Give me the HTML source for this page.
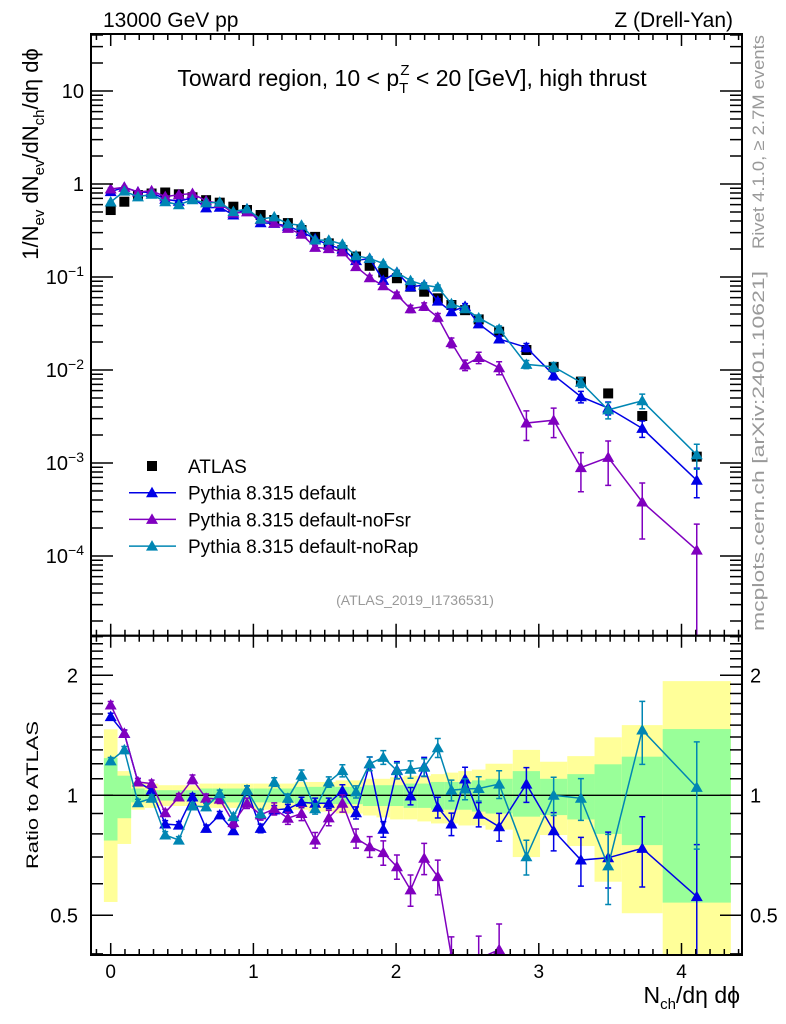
<!DOCTYPE html>
<html><head><meta charset="utf-8">
<style>
html,body{margin:0;padding:0;background:#fff;overflow:hidden;width:786px;height:1024px;}
svg{display:block;font-family:"Liberation Sans",sans-serif;}
</style></head>
<body>
<svg id="chart" width="786" height="1024" viewBox="0 0 786 1024" xmlns="http://www.w3.org/2000/svg">
<defs>
<clipPath id="clipMain"><rect x="91" y="34" width="651" height="601.7"/></clipPath>
<clipPath id="clipRatio"><rect x="91" y="635.7" width="651" height="319.3"/></clipPath>
</defs>
<g id="bands" clip-path="url(#clipRatio)"></g>
<g id="ratioMarks" clip-path="url(#clipRatio)"></g>
<g id="mainMarks" clip-path="url(#clipMain)"></g>
<g id="axes"></g>
<text x="103" y="27" font-size="21">13000 GeV pp</text>
<text x="733" y="27" font-size="21" text-anchor="end">Z (Drell-Yan)</text>
<text x="412" y="86" font-size="23" text-anchor="middle">Toward region, 10 &lt; p<tspan font-size="15" dy="7">T</tspan><tspan font-size="15" dx="-8" dy="-18">Z</tspan><tspan dy="11"> &lt; 20 [GeV], high thrust</tspan></text>
<text x="415" y="605" font-size="14" fill="#999" text-anchor="middle">(ATLAS_2019_I1736531)</text>
<text transform="translate(764,142) rotate(-90)" font-size="17" fill="#999" text-anchor="middle" textLength="214" lengthAdjust="spacingAndGlyphs">Rivet 4.1.0, ≥ 2.7M events</text>
<text transform="translate(764,451) rotate(-90)" font-size="17" fill="#999" text-anchor="middle" textLength="360" lengthAdjust="spacingAndGlyphs">mcplots.cern.ch [arXiv:2401.10621]</text>
<text transform="translate(38,154) rotate(-90)" font-size="22" text-anchor="middle">1/N<tspan font-size="15" dy="6">ev</tspan><tspan dy="-6"> dN</tspan><tspan font-size="15" dy="6">ev</tspan><tspan dy="-6">/dN</tspan><tspan font-size="15" dy="6">ch</tspan><tspan dy="-6">/dη dϕ</tspan></text>
<text transform="translate(38,795) rotate(-90)" font-size="17" text-anchor="middle" textLength="148" lengthAdjust="spacingAndGlyphs">Ratio to ATLAS</text>
<text x="740" y="1003" font-size="23" text-anchor="end">N<tspan font-size="15" dy="6">ch</tspan><tspan dy="-6">/dη dϕ</tspan></text>
<g id="legend"></g>
</svg>
<script>
const binLo = [-0.5,0.5,1.5,2.5,3.5,4.5,5.5,6.5,7.5,8.5,9.5,10.5,11.5,12.5,13.5,14.5,15.5,16.5,17.5,18.5,19.5,20.5,21.5,22.5,23.5,24.5,25.5,26.5,27.5,29.5,31.5,33.5,35.5,37.5,40.5];
const binHi = [0.5,1.5,2.5,3.5,4.5,5.5,6.5,7.5,8.5,9.5,10.5,11.5,12.5,13.5,14.5,15.5,16.5,17.5,18.5,19.5,20.5,21.5,22.5,23.5,24.5,25.5,26.5,27.5,29.5,31.5,33.5,35.5,37.5,40.5,45.5];
const atlas = [0.525,0.645,0.76,0.79,0.81,0.775,0.72,0.67,0.63,0.57,0.525,0.464,0.41,0.38,0.32,0.27,0.23,0.195,0.166,0.132,0.112,0.097,0.0786,0.0695,0.059,0.050,0.044,0.035,0.0258,0.0164,0.0108,0.0075,0.0056,0.0032,0.00117];
const blueR = [1.575,1.43,1.08,1.03,0.847,0.842,0.99,0.826,0.893,0.815,1.03,0.826,0.919,0.925,0.96,0.955,0.955,1.027,0.904,1.2,0.822,1.157,0.996,1.18,0.933,0.847,1.099,0.896,0.834,1.067,0.815,0.688,0.697,0.736,0.557];
const purpleR = [1.685,1.43,1.08,1.07,0.904,0.99,1.097,0.983,0.978,0.854,0.955,0.893,0.925,0.876,0.90,0.772,0.878,0.955,0.78,0.743,0.718,0.662,0.579,0.695,0.625,0.394,0.257,0.389,0.41,0.164,0.267,0.119,0.205,0.119,0.099];
const tealR = [1.22,1.30,0.958,0.983,0.795,0.772,0.94,0.935,1.01,0.884,1.03,0.90,1.08,0.983,1.124,0.925,1.08,1.153,1.02,1.2,1.245,1.153,1.162,1.176,1.316,1.03,1.037,1.04,1.067,0.701,1.0,0.983,0.665,1.458,1.047];
const blueE = [0.02,0.02,0.02,0.02,0.02,0.02,0.02,0.02,0.02,0.02,0.025,0.025,0.025,0.025,0.03,0.03,0.03,0.035,0.035,0.04,0.045,0.05,0.05,0.055,0.06,0.065,0.07,0.07,0.08,0.1,0.11,0.14,0.16,0.2,0.35];
const purpleE = [0.02,0.02,0.02,0.02,0.02,0.02,0.025,0.025,0.025,0.03,0.03,0.03,0.035,0.035,0.04,0.045,0.045,0.05,0.055,0.06,0.07,0.07,0.09,0.09,0.1,0.12,0.13,0.14,0.16,0.35,0.35,0.45,0.5,0.6,0.9];
const tealE = [0.02,0.02,0.02,0.02,0.02,0.02,0.02,0.02,0.02,0.02,0.025,0.025,0.025,0.025,0.03,0.03,0.03,0.035,0.035,0.04,0.04,0.045,0.05,0.05,0.055,0.06,0.06,0.07,0.08,0.1,0.11,0.12,0.2,0.18,0.3];
const yelUp = [1.464,1.15,1.08,1.07,1.06,1.06,1.06,1.07,1.07,1.07,1.07,1.07,1.07,1.07,1.08,1.08,1.08,1.09,1.09,1.10,1.10,1.11,1.12,1.12,1.13,1.14,1.15,1.16,1.20,1.30,1.214,1.254,1.398,1.50,1.934];
const yelDn = [0.54,0.755,0.92,0.93,0.94,0.94,0.94,0.93,0.93,0.93,0.93,0.92,0.92,0.92,0.92,0.91,0.91,0.90,0.90,0.89,0.88,0.87,0.87,0.86,0.85,0.85,0.84,0.84,0.82,0.70,0.795,0.746,0.607,0.506,0.35];
const grnUp = [1.24,1.12,1.04,1.03,1.03,1.03,1.03,1.04,1.04,1.04,1.04,1.04,1.04,1.04,1.05,1.05,1.05,1.05,1.05,1.06,1.06,1.06,1.07,1.07,1.08,1.08,1.08,1.09,1.10,1.15,1.10,1.13,1.196,1.25,1.466];
const grnDn = [0.77,0.876,0.96,0.97,0.97,0.97,0.97,0.96,0.96,0.96,0.96,0.96,0.96,0.96,0.95,0.95,0.95,0.95,0.95,0.94,0.94,0.94,0.93,0.93,0.92,0.92,0.92,0.91,0.90,0.884,0.892,0.87,0.80,0.75,0.538];
const xTicks = [0,1,2,3,4];
const mainDecades = [-4,-3,-2,-1,0,1];
const ratioLabels = [0.5,1,2];

const AREA = 10.47;
const NS = 'http://www.w3.org/2000/svg';
const L = 91, R = 742, MT = 34, MB = 635.7, RB = 955;
const xpx = x => 110.7 + x * 142.7;
const ym = v => 184 - 93 * Math.log10(v);
const yr = r => 795.3 - 398.6 * Math.log10(r);
const cl = (y, a, b) => Math.min(Math.max(y, a), b);
function mk(tag, attrs, parent) {
  const e = document.createElementNS(NS, tag);
  for (const k in attrs) e.setAttribute(k, attrs[k]);
  parent.appendChild(e);
  return e;
}
const bands = document.getElementById('bands');
const rm = document.getElementById('ratioMarks');
const mm = document.getElementById('mainMarks');
const ax = document.getElementById('axes');
const lg = document.getElementById('legend');
const xc = i => (binLo[i] + binHi[i]) / 2 / AREA;

for (let i = 0; i < binLo.length; i++) {
  const x0 = xpx(binLo[i] / AREA), x1 = xpx(binHi[i] / AREA);
  const yt = cl(yr(yelUp[i]), MB, RB), yb = cl(yr(yelDn[i]), MB, RB);
  const y = mk('rect', {x: x0, y: yt, width: x1 - x0, height: yb - yt, fill: '#ffff99'}, bands);
  
  
  const gt = cl(yr(grnUp[i]), MB, RB), gb = cl(yr(grnDn[i]), MB, RB);
  const g = mk('rect', {x: x0, y: gt, width: x1 - x0, height: gb - gt, fill: '#99ff99'}, bands);
  
  
}
const one = mk('line', {x1: L, x2: R, y1: yr(1), y2: yr(1), stroke: '#000', 'stroke-width': 1.3}, rm);



function tri(cx, cy, color, parent, name) {
  const s = 6;
  const p = mk('polygon', {points: `${cx},${cy - s} ${cx - s},${cy + s * 0.75} ${cx + s},${cy + s * 0.75}`, fill: color}, parent);
  
  
}
const series = [
  {name: 'pythia-default', color: '#0000e6', r: blueR, e: blueE},
  {name: 'pythia-nofsr', color: '#8000bf', r: purpleR, e: purpleE},
  {name: 'pythia-norap', color: '#0086b3', r: tealR, e: tealE}
];
for (let i = 0; i < atlas.length; i++) {
  const sq = mk('rect', {x: xpx(xc(i)) - 5, y: ym(atlas[i]) - 5, width: 10, height: 10, fill: '#000'}, mm);
  
  
}
series.forEach(s => {
  const ptsM = [], ptsR = [];
  for (let i = 0; i < atlas.length; i++) {
    const v = atlas[i] * s.r[i];
    ptsM.push(xpx(xc(i)) + ',' + ym(v));
    ptsR.push(xpx(xc(i)) + ',' + cl(yr(s.r[i]), MB - 20, RB + 20));
  }
  const lm = mk('polyline', {points: ptsM.join(' '), fill: 'none', stroke: s.color, 'stroke-width': 1.5}, mm);
  
  
  const lr = mk('polyline', {points: ptsR.join(' '), fill: 'none', stroke: s.color, 'stroke-width': 1.5}, rm);
  
  
  for (let i = 0; i < atlas.length; i++) {
    const x = xpx(xc(i));
    const v = atlas[i] * s.r[i];
    const e = s.e[i];
    const mt = cl(ym(v * (1 + e)), MT, MB), mb = cl(ym(Math.max(v * (1 - e), 1e-9)), MT, MB);
    const em = mk('path', {d: `M${x},${mt}V${mb}M${x - 3},${mt}h6M${x - 3},${mb}h6`, stroke: s.color, 'stroke-width': 1.5, fill: 'none'}, mm);
    
    
    if (ym(v) < MB + 10) tri(x, ym(v), s.color, mm, s.name + '-point');
    const r = s.r[i];
    const rt = cl(yr(r * (1 + e)), MB, RB), rb = cl(yr(Math.max(r * (1 - e), 0.01)), MB, RB);
    if (rt < RB && rb > MB) {
      const er = mk('path', {d: `M${x},${rt}V${rb}M${x - 3},${rt}h6M${x - 3},${rb}h6`, stroke: s.color, 'stroke-width': 1.5, fill: 'none'}, rm);
      
      
    }
    if (yr(r) < RB + 8 && yr(r) > MB - 8) tri(x, yr(r), s.color, rm, s.name + '-ratio-point');
  }
});

[[MT, MB], [MB, RB]].forEach(([t, b], k) => {
  const f = mk('rect', {x: L, y: t, width: R - L, height: b - t, fill: 'none', stroke: '#000', 'stroke-width': 2}, ax);
  
  
});
let d = '';
for (let k = -1; k <= 46; k++) {
  const x = xpx(k / 10);
  if (x < L + 1 || x > R - 1) continue;
  const len = (k % 10 === 0) ? 12 : 6;
  d += `M${x},${MT}v${len}M${x},${MB}v${-len}M${x},${MB}v${len}M${x},${RB}v${-len}`;
}
for (const dec of [-5, -4, -3, -2, -1, 0, 1]) {
  for (let m = 1; m <= 9; m++) {
    const y = ym(m * Math.pow(10, dec));
    if (y < MT || y > MB) continue;
    const len = m === 1 ? 22 : 12;
    d += `M${L},${y}h${len}M${R},${y}h${-len}`;
  }
}
for (let k = 4; k <= 25; k++) {
  const y = yr(k / 10);
  if (y < MB || y > RB) continue;
  const len = (k === 5 || k === 10 || k === 20) ? 22 : 12;
  d += `M${L},${y}h${len}M${R},${y}h${-len}`;
}
const tk = mk('path', {d: d, stroke: '#000', 'stroke-width': 1.5, fill: 'none'}, ax);



xTicks.forEach(v => {
  const t = mk('text', {x: xpx(v), y: 978, 'font-size': 19, 'text-anchor': 'middle'}, ax);
  t.textContent = String(v);
  
  
});
mainDecades.forEach(dec => {
  const y = ym(Math.pow(10, dec)) + 7;
  const t = mk('text', {x: 84, y: y, 'font-size': 20, 'text-anchor': 'end'}, ax);
  
  
  if (dec === 0) t.textContent = '1';
  else if (dec === 1) t.textContent = '10';
  else t.innerHTML = '10<tspan font-size="14" dy="-8">−' + (-dec) + '</tspan>';
});
ratioLabels.forEach(r => {
  const y = yr(r) + 7;
  const t = mk('text', {x: 78, y: y, 'font-size': 20, 'text-anchor': 'end'}, ax);
  t.textContent = String(r);
  
  
  const t2 = mk('text', {x: 750, y: y, 'font-size': 20}, ax);
  t2.textContent = String(r);
  
  
});

const legItems = [
  {label: 'ATLAS', color: '#000', sq: true},
  {label: 'Pythia 8.315 default', color: '#0000e6'},
  {label: 'Pythia 8.315 default-noFsr', color: '#8000bf'},
  {label: 'Pythia 8.315 default-noRap', color: '#0086b3'}
];
legItems.forEach((it, i) => {
  const y = 466 + i * 26.7;
  const g = mk('g', {}, lg);
  
  
  if (it.sq) {
    mk('rect', {x: 147, y: y - 5, width: 10, height: 10, fill: '#000'}, g);
  } else {
    mk('line', {x1: 129, x2: 176, y1: y, y2: y, stroke: it.color, 'stroke-width': 1.5}, g);
    tri(152, y, it.color, g, 'legend-marker');
  }
  const t = mk('text', {x: 188, y: y + 7, 'font-size': 19}, g);
  t.textContent = it.label;
});
</script>
</body></html>
